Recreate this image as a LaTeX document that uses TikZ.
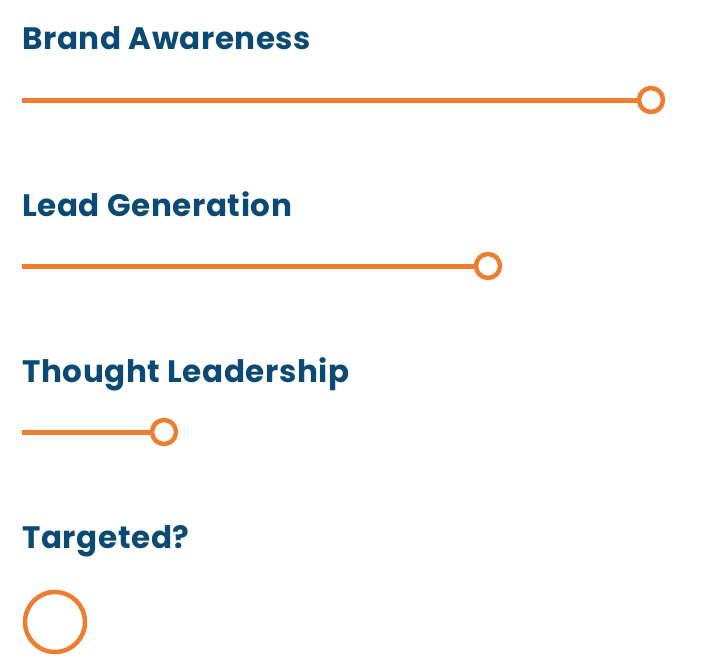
\documentclass[tikz,border=0pt]{standalone}
\usepackage{fontspec}
\setmainfont{Poppins}[LetterSpace=2]
\usetikzlibrary{positioning}
\definecolor{navy}{HTML}{0B4A75}
\definecolor{tangerine}{HTML}{EE7D30}
\tikzset{
  heading/.style={anchor=base west, inner sep=0pt, text=navy, font=\fontsize{31}{34}\selectfont\bfseries},
  knob/.style={circle, draw=tangerine, line width=4.5pt, fill=white, minimum size=24pt, inner sep=0pt},
  bar/.style={draw=tangerine, line width=5pt}
}
\begin{document}
\begin{tikzpicture}[x=1pt,y=-1pt]
		\useasboundingbox (0,0) rectangle (701,669);
		
		\node[heading] (brand) at (22,50) {Brand Awareness};
		\coordinate (brandstart) at (22,100);
		\node[knob] (brandknob) at (651,100) {};
		\draw[bar] (brandstart) -- (brandknob);
		
		\node[heading] (lead) at (22,216) {Lead Generation};
		\coordinate (leadstart) at (22,266);
		\node[knob] (leadknob) at (488,266) {};
		\draw[bar] (leadstart) -- (leadknob);
		
		\node[heading] (thought) at (22,382) {Thought Leadership};
		\coordinate (thoughtstart) at (22,432);
		\node[knob] (thoughtknob) at (164,432) {};
		\draw[bar] (thoughtstart) -- (thoughtknob);
		
		\node[heading] (target) at (22,548) {Targeted?};
		\node[knob, minimum size=60pt] (targetknob) at (55,622) {};
		
\end{tikzpicture}
\end{document}
